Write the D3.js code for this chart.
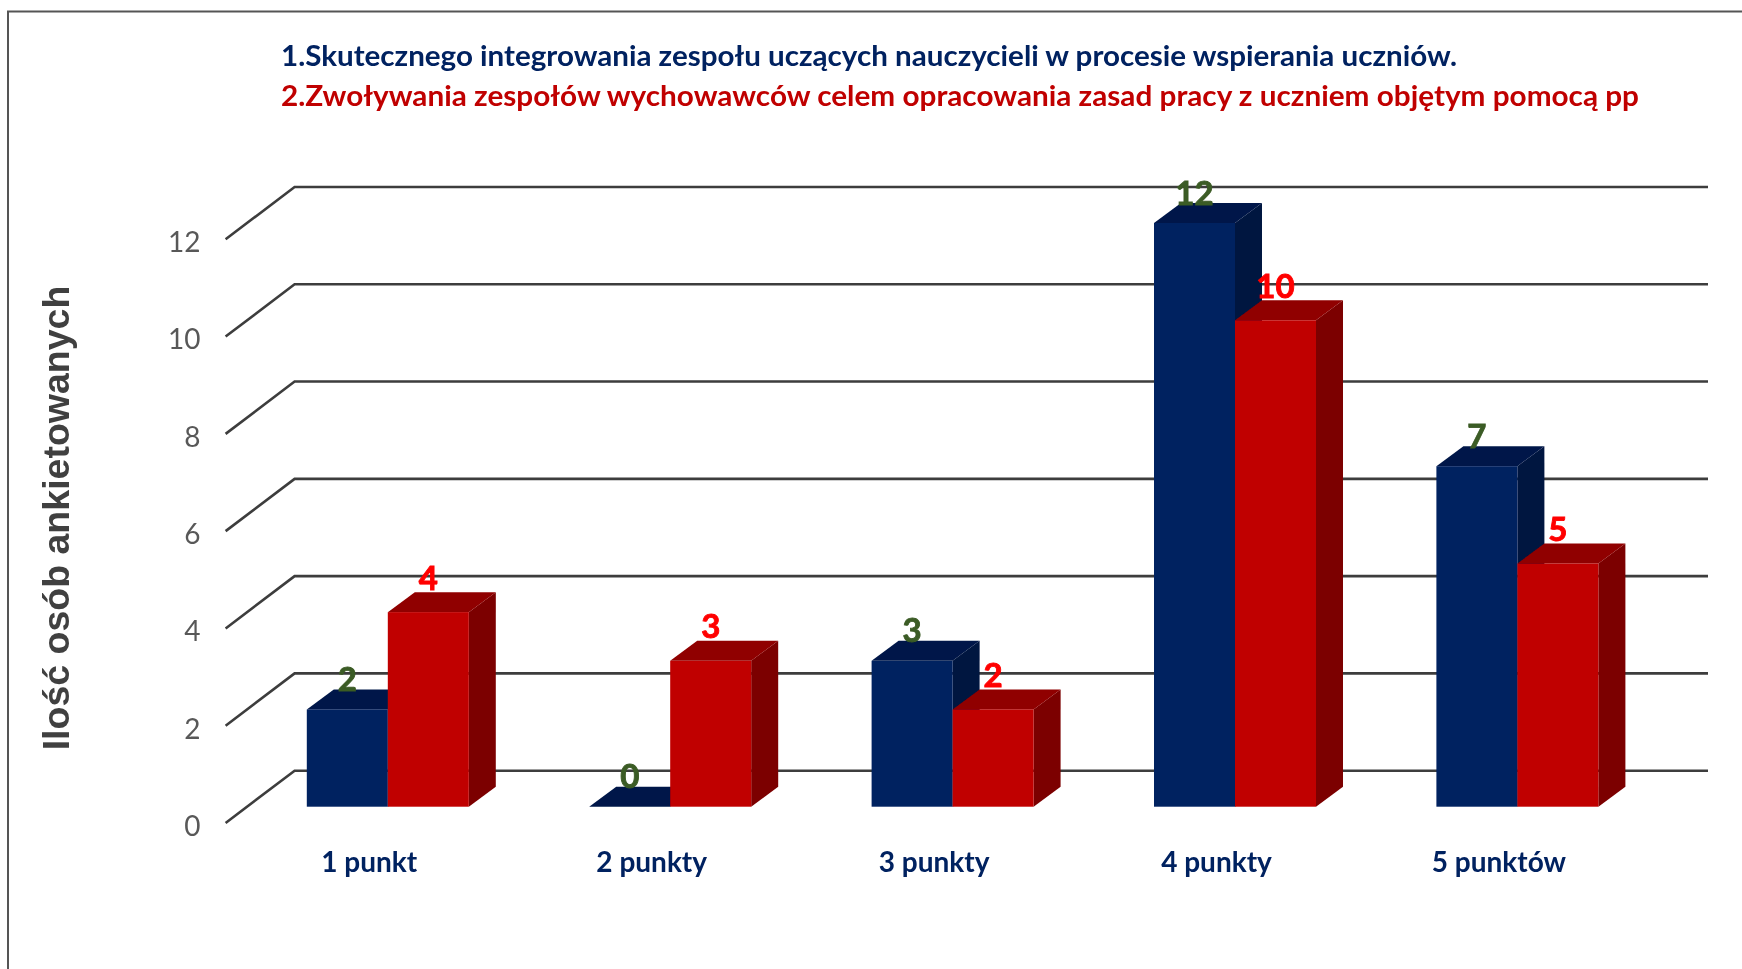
<!DOCTYPE html>
<html><head><meta charset="utf-8">
<script src="https://cdn.jsdelivr.net/npm/d3@7/dist/d3.min.js"></script>
<style>html,body{margin:0;padding:0;background:#fff}svg{display:block}</style>
</head><body><svg id="c" width="1742" height="969"></svg>
<script>
const categories = ["1 punkt","2 punkty","3 punkty","4 punkty","5 punktów"];
const seriesA = [2,0,3,12,7];
const seriesB = [4,3,2,10,5];
const yTicks = [0,2,4,6,8,10,12];
const titleA = "1.Skutecznego integrowania zespołu uczących nauczycieli w procesie wspierania uczniów.";
const titleB = "2.Zwoływania zespołów wychowawców celem opracowania zasad pracy z uczniem objętym pomocą pp";
const yAxisTitle = "Ilość osób ankietowanych";

const FONT = "Lato, 'Open Sans', sans-serif";
const svg = d3.select("#c");
svg.append("defs").append("filter").attr("id","soft").attr("x",0).attr("y",0).attr("width","100%").attr("height","100%")
  .attr("filterUnits","userSpaceOnUse").append("feGaussianBlur").attr("stdDeviation",0.55);
const root = svg.append("g").attr("filter","url(#soft)");
root.append("rect").attr("width",1742).attr("height",969).attr("fill","#fff");

const x = d3.scaleBand().domain(categories).range([246.6,1658.6]);
const inner = d3.scaleBand().domain([0,1]).range([x.bandwidth()/2-81, x.bandwidth()/2+81]);
const y = d3.scaleLinear().domain([0,12]).range([806.7,223]);

// frame
root.append("path").attr("d","M8,969V11.5H1742").attr("fill","none").attr("stroke","#555").attr("stroke-width",2);

// titles
root.append("text").attr("x",281).attr("y",66).attr("fill","#002060").attr("font-family",FONT).attr("font-weight",700).attr("font-size",29)
  .attr("textLength",1176).attr("lengthAdjust","spacingAndGlyphs").text(titleA);
root.append("text").attr("x",281).attr("y",106).attr("fill","#c00000").attr("font-family",FONT).attr("font-weight",700).attr("font-size",29)
  .attr("textLength",1358).attr("lengthAdjust","spacingAndGlyphs").text(titleB);

// gridlines with 3D wall
const frontDx=-21, frontDy=16.3, wallDx=48, wallDy=-36, right=1708;
root.append("g").selectAll("path").data(yTicks).join("path")
  .attr("d",d=>`M${246.6+frontDx},${y(d)+frontDy}L${246.6+wallDx},${y(d)+wallDy}H${right}`)
  .attr("fill","none").attr("stroke","#3d3d3d").attr("stroke-width",2.6);

// y ticks
root.append("g").selectAll("text").data(yTicks).join("text")
  .attr("x",200.5).attr("y",d=>y(d)+frontDy+3).attr("dy","0.35em").attr("text-anchor","end")
  .attr("fill","#595959").attr("font-family",FONT).attr("font-size",28).text(d=>d);

// y title
root.append("text").attr("transform","translate(69,518) rotate(-90)").attr("text-anchor","middle")
  .attr("fill","#404040").attr("font-family","'Liberation Sans', Arial, sans-serif").attr("font-weight",700).attr("font-size",37.5).text(yAxisTitle);

// 3D bars
const DX=27, DY=20;
const palettes=[{front:"#002060",top:"#001848",side:"#001440"},{front:"#c00000",top:"#900000",side:"#7c0000"}];
const rows=[];
categories.forEach((c,i)=>{[seriesA[i],seriesB[i]].forEach((v,s)=>rows.push({c,v,s}));});
const bars=root.append("g").selectAll("g").data(rows).join("g");
const bx=d=>x(d.c)+inner(d.s), bw=inner.bandwidth();
bars.append("polygon").attr("fill",d=>palettes[d.s].side)
  .attr("points",d=>{const X=bx(d)+bw;return [[X,y(d.v)],[X+DX,y(d.v)-DY],[X+DX,y(0)-DY],[X,y(0)]].join(" ");});
bars.append("polygon").attr("fill",d=>palettes[d.s].top)
  .attr("points",d=>{const X=bx(d);return [[X,y(d.v)],[X+DX,y(d.v)-DY],[X+bw+DX,y(d.v)-DY],[X+bw,y(d.v)]].join(" ");});
bars.append("rect").attr("fill",d=>palettes[d.s].front)
  .attr("x",bx).attr("y",d=>y(d.v)).attr("width",bw).attr("height",d=>y(0)-y(d.v));

// value labels
root.append("g").selectAll("text").data(rows).join("text")
  .attr("x",d=>bx(d)+bw/2).attr("y",d=>y(d.v)-(d.s===0?30:34)).attr("dy","0.35em").attr("text-anchor","middle")
  .attr("fill",d=>d.s===0?"#3b5b25":"#ff0000").attr("stroke",d=>d.s===0?"#3b5b25":"#ff0000").attr("stroke-width",0.9)
  .attr("font-family",FONT).attr("font-weight",700).attr("font-size",33).text(d=>d.v);

// category labels
root.append("g").selectAll("text").data(categories).join("text")
  .attr("x",d=>x(d)+x.bandwidth()/2-18.5).attr("y",872).attr("text-anchor","middle")
  .attr("fill","#002060").attr("font-family",FONT).attr("font-weight",700).attr("font-size",28).text(d=>d);
</script></body></html>
